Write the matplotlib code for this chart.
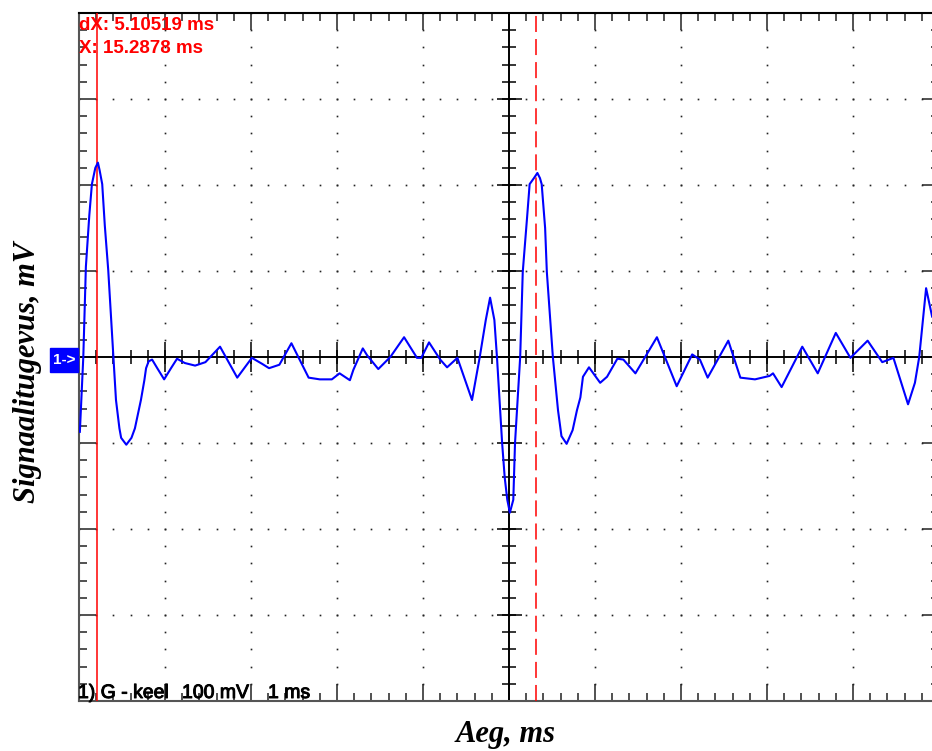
import numpy as np
import matplotlib
matplotlib.use("Agg")
import matplotlib.pyplot as plt
import matplotlib.patheffects as pe
from matplotlib.patches import Rectangle

# scope trace: time from left edge of screen (ms), channel 1 (mV)
t_ms = [0.01, 0.05, 0.08, 0.12, 0.15, 0.19, 0.22, 0.24, 0.27, 0.30,
        0.34, 0.40, 0.43, 0.47, 0.49, 0.55, 0.61, 0.65, 0.72, 0.76,
        0.78, 0.81, 0.85, 0.91, 0.99, 1.07, 1.14,
        1.23, 1.35, 1.47, 1.64, 1.84, 2.01, 2.13, 2.21, 2.33, 2.47,
        2.67, 2.80, 2.94, 3.03, 3.15, 3.19, 3.30, 3.35, 3.48, 3.62,
        3.78, 3.93, 3.98, 4.07, 4.20, 4.28, 4.40, 4.57, 4.66, 4.73,
        4.78, 4.83, 4.86, 4.92, 4.95, 4.98, 5.01, 5.05, 5.07, 5.13,
        5.16, 5.21, 5.24, 5.29, 5.33, 5.36, 5.38, 5.42, 5.44, 5.51,
        5.57, 5.61, 5.67, 5.74, 5.79, 5.83, 5.86,
        5.93, 6.06, 6.14, 6.26, 6.33, 6.47, 6.72, 6.95, 7.13, 7.22,
        7.31, 7.55, 7.69, 7.86, 8.03, 8.07, 8.17, 8.41, 8.59, 8.80,
        8.97, 9.17, 9.34, 9.47, 9.64, 9.72, 9.77, 9.85, 9.92]
u_mv = [-87, 0, 105, 165, 201, 220, 226, 217, 201, 153,
        101, 0, -50, -83, -94, -102, -94, -83, -50, -27,
        -13, -5, -3, -13, -26, -13, -2,
        -7, -10, -6, 12, -24, -1, -8, -13, -9, 16,
        -24, -26, -26, -19, -27, -15, 10, 2, -14, 0,
        23, -1, -1, 17, -3, -12, -1, -50, 0, 43,
        69, 43, 0, -100, -140, -166, -181, -166, -100, 0,
        99, 162, 201, 208, 214, 208, 201, 150, 99, 0,
        -62, -92, -101, -85, -62, -47, -23,
        -12, -30, -23, -2, -3, -19, 23, -34, 3, -3,
        -24, 19, -24, -26, -22, -19, -35, 12, -19, 28,
        -1, 19, -6, -1, -55, -30, 0, 80, 47]

# scope settings
ms_per_div = 1
mv_per_div = 100
n_xdiv, n_ydiv = 10, 8
screen_start = 9.975      # absolute time at left edge, ms
cursor_x = 15.2878        # ms
cursor_dx = 5.10519       # ms
c2 = cursor_x - screen_start
c1 = c2 - cursor_dx

W, H = 932, 751
fig = plt.figure(figsize=(W / 100, H / 100), dpi=100)
fig.patch.set_facecolor("white")

def fx(px):
    return px / W

def fy(py):
    return 1 - py / H

# 86 px per division, right part of screen runs off the image
ax = fig.add_axes([fx(79), fy(701), 860 / W, 688 / H])
xmax = n_xdiv * ms_per_div
ymax = n_ydiv / 2 * mv_per_div
ax.set_xlim(0, xmax)
ax.set_ylim(-ymax, ymax)

for side in ["top", "right"]:
    ax.spines[side].set_color("black")
for side in ["left", "bottom"]:
    ax.spines[side].set_color("#555555")
for s in ax.spines.values():
    s.set_linewidth(1.5)

xmaj = np.arange(0, xmax + 1e-9, ms_per_div)
xmin = np.arange(0, xmax + 1e-9, ms_per_div / 5)
ymaj = np.arange(-ymax, ymax + 1e-9, mv_per_div)
ymin = np.arange(-ymax, ymax + 1e-9, mv_per_div / 5)
ax.set_xticks(xmaj)
ax.set_xticks(xmin, minor=True)
ax.set_yticks(ymaj)
ax.set_yticks(ymin, minor=True)
ax.tick_params(which="both", direction="in", top=True, right=True,
               labelbottom=False, labelleft=False, width=1.1, color="#222222")
ax.tick_params(which="major", length=12.2)
ax.tick_params(which="minor", length=5.8)

# dotted graticule
for gx in xmaj[1:-1]:
    if abs(gx - xmax / 2) > 1e-6:
        ax.plot(np.full_like(ymin, gx), ymin, ls="none", marker="s",
                ms=1.2, mew=0, color="#222222", zorder=1)
for gy in ymaj[1:-1]:
    if abs(gy) > 1e-6:
        ax.plot(xmin, np.full_like(xmin, gy), ls="none", marker="s",
                ms=1.2, mew=0, color="#222222", zorder=1)

# centre axes with ticks
ax.axhline(0, color="black", lw=1.4, zorder=2)
ax.axvline(xmax / 2, color="black", lw=1.4, zorder=2)
ax.plot(xmin, np.zeros_like(xmin), ls="none", marker="|", ms=10, mew=1.1,
        color="black", zorder=2)
ax.plot(xmaj, np.zeros_like(xmaj), ls="none", marker="|", ms=21, mew=1.1,
        color="black", zorder=2)
ax.plot(np.full_like(ymin, xmax / 2), ymin, ls="none", marker="_", ms=10,
        mew=1.1, color="black", zorder=2)
ax.plot(np.full_like(ymaj, xmax / 2), ymaj, ls="none", marker="_", ms=18,
        mew=1.1, color="black", zorder=2)

# cursors
ax.axvline(c1, color="#ff0000", lw=1.1, zorder=3)
ax.axvline(c2, color="#ff0000", lw=1.1, ls=(0, (10.5, 4.6)), zorder=3)

# trace
ax.plot(t_ms, u_mv, color="#0000ff", lw=1.5, zorder=4)

# readouts
red_font = dict(family="Liberation Sans", weight="bold", size=13.5,
                color="#ff0000", va="baseline", ha="left")
fig.text(fx(79), fy(30), f"dX: {cursor_dx:.5f} ms", **red_font)
fig.text(fx(79), fy(53), f"X: {cursor_x:.4f} ms", **red_font)

# channel settings line, slightly heavier than regular weight
heavy = [pe.withStroke(linewidth=0.7, foreground="black")]
ch_font = dict(family="Liberation Sans", size=14, color="black",
               va="baseline", ha="left", path_effects=heavy)
fig.text(fx(78), fy(698), "1) G - keel", **ch_font)
fig.text(fx(182), fy(698), f"{mv_per_div} mV", **ch_font)
fig.text(fx(268), fy(698), f"{ms_per_div} ms", **ch_font)

# channel 1 marker
fig.patches.append(Rectangle((fx(50), fy(372)), 28 / W, 24 / H,
                             transform=fig.transFigure, color="#0000ff"))
fig.text(fx(64), fy(360), "1->", family="Liberation Sans", size=11,
         weight="bold", color="white", ha="center", va="center")

label_font = dict(family="Liberation Serif", weight="bold", style="italic",
                  size=22, color="black")
fig.text(fx(28), fy(372), "Signaalitugevus, mV", rotation=90,
         ha="center", va="center", **label_font)
fig.text(fx(506), fy(742), "Aeg, ms", ha="center", va="baseline", **label_font)

fig.savefig("out.png", dpi=100)
